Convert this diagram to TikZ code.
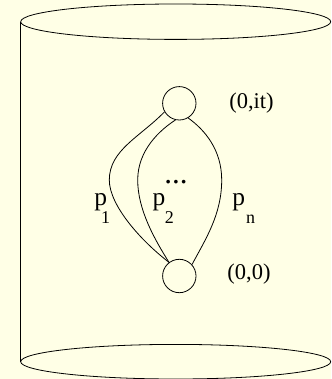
\documentclass[tikz,border=0pt]{standalone}
\usepackage{fontspec}
\setmainfont{Liberation Serif}
\definecolor{bgyellow}{RGB}{255,255,230}
\begin{document}
\begin{tikzpicture}[x=1pt,y=-1pt,
  line/.style={draw=black,line width=0.8pt},
  vtx/.style={circle,draw=black,line width=0.8pt,minimum size=33.4pt,inner sep=0pt},
  lbl/.style={anchor=base,inner sep=0pt,font=\fontsize{22.5}{26}\selectfont},
  plbl/.style={anchor=base,inner sep=0pt,font=\fontsize{25.5}{30}\selectfont},
  sublbl/.style={anchor=base,inner sep=0pt,font=\fontsize{18}{22}\selectfont},
  dotlbl/.style={anchor=base,inner sep=0pt,font=\fontsize{31}{36}\selectfont}]
\useasboundingbox[fill=bgyellow] (0,0) rectangle (331,379);
% cylinder
\draw[line] (175.7,21.7) ellipse [x radius=155, y radius=17.7];
\draw[line] (175.7,361.7) ellipse [x radius=155, y radius=17.3];
\draw[line] (20.7,21.7) -- (20.7,361.7);
% vertices
\node[vtx] (top) at (179.3,103.3) {};
\node[vtx] (bot) at (179.3,276) {};
% paths
\draw[line] (top.210) .. controls (140,137) and (109.3,150) .. (109.3,180)
  .. controls (109.3,205) and (140,240) .. (bot.127);
\draw[line] (top.257) .. controls (160,130) and (137.7,150) .. (137.7,180)
  .. controls (137.7,210) and (155,240) .. (bot.127);
\draw[line] (top.301) .. controls (205,130) and (221.7,150) .. (221.7,180)
  .. controls (221.7,215) and (205,240) .. (bot.42);
% labels
\node[lbl] (lit) at (251.5,108.7) {(0,it)};
\node[lbl] (l00) at (249,279.4) {(0,0)};
\node[plbl] (p1) at (100.8,205.3) {p};
\node[sublbl] (s1) at (105.5,223.3) {1};
\node[plbl] (p2) at (159,205.3) {p};
\node[sublbl] (s2) at (169.3,223.3) {2};
\node[plbl] (pn) at (238.8,205.3) {p};
\node[sublbl] (sn) at (250.5,223.3) {n};
\node[dotlbl] (dots) at (176,183) {...};
\end{tikzpicture}
\end{document}
